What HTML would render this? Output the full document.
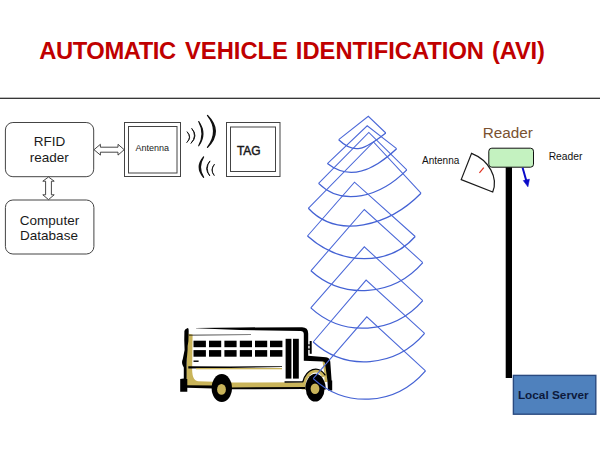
<!DOCTYPE html>
<html><head><meta charset="utf-8"><title>AVI</title>
<style>
html,body{margin:0;padding:0;background:#fff;}
body{width:600px;height:450px;overflow:hidden;font-family:"Liberation Sans",Arial,sans-serif;}
svg{display:block}
text{font-family:"Liberation Sans",Arial,sans-serif;}
</style></head><body>
<svg width="600" height="450" viewBox="0 0 600 450">
<rect width="600" height="450" fill="#ffffff"/>
<g font-size="23.75" font-weight="bold" fill="#c00000">
<text x="39.2" y="58.8" textLength="137" lengthAdjust="spacing">AUTOMATIC</text>
<text x="185" y="58.8">VEHICLE</text>
<text x="295.8" y="58.8">IDENTIFICATION</text>
<text x="492" y="58.8" textLength="52.9" lengthAdjust="spacing">(AVI)</text>
</g>
<rect x="0" y="97.7" width="600" height="1.2" fill="#222"/>

<!-- block diagram -->
<g fill="#fff" stroke="#444" stroke-width="1">
<rect x="5.4" y="122.5" width="88.3" height="54.2" rx="7.5" ry="7.5"/>
<rect x="5.4" y="200" width="88.5" height="54" rx="7.5" ry="7.5"/>
<rect x="124.5" y="122.5" width="56" height="54"/>
<rect x="128.5" y="126.5" width="48.5" height="46.5"/>
<rect x="226.5" y="122.5" width="53.5" height="54"/>
<rect x="230.5" y="127" width="45" height="44.5"/>
</g>
<g fill="#1a1a1a" text-anchor="middle">
<text x="49.5" y="145.5" font-size="13.5">RFID</text>
<text x="49.3" y="162" font-size="13.5">reader</text>
<text x="49.5" y="224.5" font-size="13.5">Computer</text>
<text x="49" y="239.5" font-size="13.5">Database</text>
<text x="152.3" y="150.5" font-size="9">Antenna</text>
<text x="248.8" y="154.6" font-size="12" stroke="#1a1a1a" stroke-width="0.45">TAG</text>
</g>
<!-- double arrows -->
<g fill="#fff" stroke="#333" stroke-width="0.9" stroke-linejoin="miter">
<path d="M94,149.7 L100.4,144.3 L100.4,147.2 L118,147.2 L118,144.3 L124.2,149.7 L118,155.1 L118,152.2 L100.4,152.2 L100.4,155.1 Z"/>
<path d="M48.5,177 L54.2,181.2 L51.4,181.2 L51.4,194.8 L54.2,194.8 L48.5,199.6 L42.8,194.8 L45.6,194.8 L45.6,181.2 L42.8,181.2 Z"/>
</g>
<!-- radio waves -->
<g fill="#111" stroke="#111" stroke-linejoin="round">
<path stroke-width="1.3" d="M207.5,115.4 Q223.2,131.3 207.5,147.3 Q219.8,131.3 207.5,115.4 Z"/>
<path stroke-width="1.1" d="M198.7,121.5 Q207.2,133.7 198.7,145.8 Q205.2,133.7 198.7,121.5 Z"/>
<path stroke-width="0.9" d="M191.7,128.4 Q198.6,135.9 190.9,143.4 Q197.6,135.9 191.7,128.4 Z"/>
<path stroke-width="0.8" d="M187.0,131.7 Q192.5,137.2 186.7,142.6 Q192.0,137.2 187.0,131.7 Z"/>
<path stroke-width="1.2" d="M203.6,156.9 Q194.8,167.2 203.6,177.4 Q197.2,167.2 203.6,156.9 Z"/>
<path stroke-width="0.9" d="M210.0,160.9 Q203.4,168.4 209.8,175.9 Q204.6,168.4 210.0,160.9 Z"/>
<path stroke-width="0.8" d="M214.5,164.2 Q209.6,169.9 214.3,175.6 Q210.0,169.9 214.5,164.2 Z"/>
</g>

<!-- reader pole -->
<g transform="translate(461.2,179.6) rotate(21.6)">
<path d="M0,0 L0,-28.2 A33.9,28.2 0 0 1 33.9,0 Z" fill="#fff" stroke="#1a1a1a" stroke-width="1.2"/>
</g>
<line x1="483.8" y1="167.7" x2="479.4" y2="172.8" stroke="#e03020" stroke-width="1.2"/>
<rect x="505.7" y="166" width="6.3" height="212" fill="#000"/>
<rect x="488.8" y="148.2" width="44.7" height="19" rx="3" ry="3" fill="#c4f2c0" stroke="#111" stroke-width="1"/>
<g stroke="#0a0ac8" fill="#0a0ac8">
<line x1="522.6" y1="167.8" x2="526.4" y2="181" stroke-width="2"/>
<path d="M527.9,186.8 L523.3,180.6 L529.4,179.2 Z" stroke-width="0.6"/>
</g>
<text x="482.8" y="138" font-size="15.3" fill="#7a5230">Reader</text>
<text x="422" y="163.8" font-size="10" fill="#111">Antenna</text>
<text x="548.7" y="159.8" font-size="10.3" fill="#111">Reader</text>
<rect x="513.4" y="375.4" width="82.4" height="38.8" fill="#4f81bd" stroke="#2a4a80" stroke-width="1.4"/>
<text x="553.3" y="399" font-size="11.8" font-weight="bold" fill="#0d1a3c" text-anchor="middle">Local Server</text>

<!-- bus -->
<g id="bus">
<!-- body white -->
<path d="M188,330 L305,330 L306,358 L327,360 L328,386 L188,386 Z" fill="#fff"/>
<!-- gold back band and skirt (L shape) -->
<path d="M187.6,333.5 L192.6,334.5 L192.2,366 Q191.4,380.6 198,381.2 L214,381.8 L214,387.2 L187,386.6 Q185.6,372 186.6,366 Z" fill="#c9b45a"/>
<!-- gold skirt between wheels -->
<path d="M230,382.6 L304,382.2 L306,388 L230,388 Z" fill="#c9b45a"/>
<!-- gold fender -->
<path d="M323,361 L327,361 L327.6,382 L324.6,382 Q324.6,372 322.6,362 Z" fill="#c9b45a"/>
<path d="M303.4,389.5 A12.1,18.5 0 0 1 324.2,376.6" fill="none" stroke="#c9b45a" stroke-width="3.6"/>
<path d="M285,382 L302.8,381.9 A13.7,20.3 0 0 1 325.0,374.9" fill="none" stroke="#000" stroke-width="1.3" stroke-linecap="round" stroke-linejoin="round"/>
<!-- black back outline -->
<path d="M186.8,328.4 Q188.9,327.2 188.7,331 L188.4,341 Q187.4,346 187.6,350 L186.8,359 Q186.6,363 186.6,366.5 L186.6,378.9 L187.3,378.9 L187.3,391.7 L180.2,391.7 L180.2,378.9 L183.8,378.5 L183.8,367.5 Q180.8,363 182.8,359 L184.6,350 Q184,340 184.4,331 Q184.8,329.2 186.8,328.4 Z" fill="#000"/>
<!-- roof, pillar, hood, front -->
<path d="M196,327.9 L240,327.4 L302,327.3 Q308.2,327.3 308.2,333.5 L308.2,355.7 L326,357.2 Q330.2,357.6 330.3,362 L331.6,380.4 L332.2,380.4 L332.2,390.5 L328,390.5 L327.4,380.4 L325,363.2 Q324.8,361.6 323,361.5 L303.8,360.8 L303.8,334 Q303.8,331.2 300.4,331.1 L240,329.9 L196,328.3 Z" fill="#000"/>
<path d="M189,334.8 L251,334.4 L251,335.1 L189,335.6 Z" fill="#000"/>
<!-- windows -->
<g fill="#000">
<rect x="193.5" y="340.7" width="12.4" height="6.5"/><rect x="209" y="340.7" width="12.2" height="6.5"/><rect x="224.4" y="340.7" width="12.2" height="6.5"/><rect x="239.8" y="340.7" width="12.2" height="6.5"/><rect x="255" y="340.7" width="12.2" height="6.5"/><rect x="270" y="340.7" width="12.4" height="6.5"/>
<rect x="193.5" y="350.1" width="12.4" height="6.6"/><rect x="209" y="350.1" width="12.2" height="6.6"/><rect x="224.4" y="350.1" width="12.2" height="6.6"/><rect x="239.8" y="350.1" width="12.2" height="6.6"/><rect x="255" y="350.1" width="12.2" height="6.6"/><rect x="270" y="350.1" width="12.4" height="6.6"/>
<rect x="285.6" y="338.8" width="5.8" height="39.8"/><rect x="293" y="338.8" width="5.8" height="39.8"/>
<rect x="193.5" y="360.5" width="5.1" height="1.4"/>
</g>
<!-- belt line -->
<path d="M188.3,366.2 L230,366.5 L282,366.2 L282,366.9 L230,367.9 L188.3,368.5 Z" fill="#000"/>
<rect x="196" y="368" width="86" height="1.3" fill="#c9b45a"/>
<!-- bottom lines -->
<path d="M229,387.4 L305,387 L305,389 L229,389.2 Z" fill="#000"/>
<path d="M186.5,385.2 L214,385.6 L214,388.6 L186.5,387.8 Z" fill="#000"/>
<!-- mirror -->
<rect x="309.7" y="341" width="2" height="12.8" fill="#000"/>
<rect x="307.4" y="344.4" width="3.5" height="1.3" fill="#000"/><rect x="307.4" y="348.5" width="3.5" height="1.3" fill="#000"/>
<!-- wheel arches & wheels -->
<ellipse cx="221.8" cy="388.1" rx="10.2" ry="14" fill="#000"/>
<ellipse cx="221.5" cy="389.4" rx="4.4" ry="5.4" fill="#c9b45a"/>
<path d="M305.2,389.5 A10.3,15.7 0 0 1 325.8,389.5 Z" fill="#000"/>
<ellipse cx="315.2" cy="389.3" rx="9.3" ry="12.3" fill="#000"/>
<ellipse cx="315" cy="388.8" rx="4.4" ry="5.3" fill="#c9b45a"/>
</g>

<!-- sectors -->
<path d="M338.7,139.7 L368.3,116.3 L385.8,133.0" fill="none" stroke="#4b68d8" stroke-width="1.05" stroke-linejoin="miter"/>
<path d="M338.7,139.7 C354.2,154.5 363.7,150.4 385.8,133.0" fill="none" stroke="#4462d4" stroke-width="1.25"/>
<path d="M327.4,163.6 L367.2,125.8 L396.6,148.7" fill="none" stroke="#4b68d8" stroke-width="1.05" stroke-linejoin="miter"/>
<path d="M327.4,163.6 C349.3,180.7 372.4,171.7 396.6,148.7" fill="none" stroke="#4462d4" stroke-width="1.25"/>
<path d="M318.6,183.4 L368.8,132.4 L406.8,169.9" fill="none" stroke="#4b68d8" stroke-width="1.05" stroke-linejoin="miter"/>
<path d="M318.6,183.4 C342.7,207.2 380.5,196.7 406.8,169.9" fill="none" stroke="#4462d4" stroke-width="1.25"/>
<path d="M308.3,208.3 L373.5,142.0 L421.0,193.2" fill="none" stroke="#4b68d8" stroke-width="1.05" stroke-linejoin="miter"/>
<path d="M308.3,208.3 C337.2,239.4 388.6,226.2 421.0,193.2" fill="none" stroke="#4462d4" stroke-width="1.25"/>
<path d="M307.5,236.0 L354.5,182.2 L415.2,236.5" fill="none" stroke="#4b68d8" stroke-width="1.05" stroke-linejoin="miter"/>
<path d="M307.5,236.0 C341.0,266.0 389.2,266.2 415.2,236.5" fill="none" stroke="#4462d4" stroke-width="1.25"/>
<path d="M310.9,270.8 L364.3,209.5 L422.8,262.6" fill="none" stroke="#4b68d8" stroke-width="1.05" stroke-linejoin="miter"/>
<path d="M310.9,270.8 C343.2,300.1 393.3,296.5 422.8,262.6" fill="none" stroke="#4462d4" stroke-width="1.25"/>
<path d="M310.8,307.9 L364.3,246.8 L422.8,300.6" fill="none" stroke="#4b68d8" stroke-width="1.05" stroke-linejoin="miter"/>
<path d="M310.8,307.9 C343.1,337.6 393.3,334.3 422.8,300.6" fill="none" stroke="#4462d4" stroke-width="1.25"/>
<path d="M313.2,342.0 L366.1,280.1 L424.6,333.4" fill="none" stroke="#4b68d8" stroke-width="1.05" stroke-linejoin="miter"/>
<path d="M313.2,342.0 C345.5,371.4 395.4,367.6 424.6,333.4" fill="none" stroke="#4462d4" stroke-width="1.25"/>
<path d="M313.2,378.6 L366.8,316.8 L425.5,370.8" fill="none" stroke="#4b68d8" stroke-width="1.05" stroke-linejoin="miter"/>
<path d="M313.2,378.6 C344.0,406.9 393.5,407.7 425.5,370.8" fill="none" stroke="#4462d4" stroke-width="1.25"/>

</svg>
</body></html>
